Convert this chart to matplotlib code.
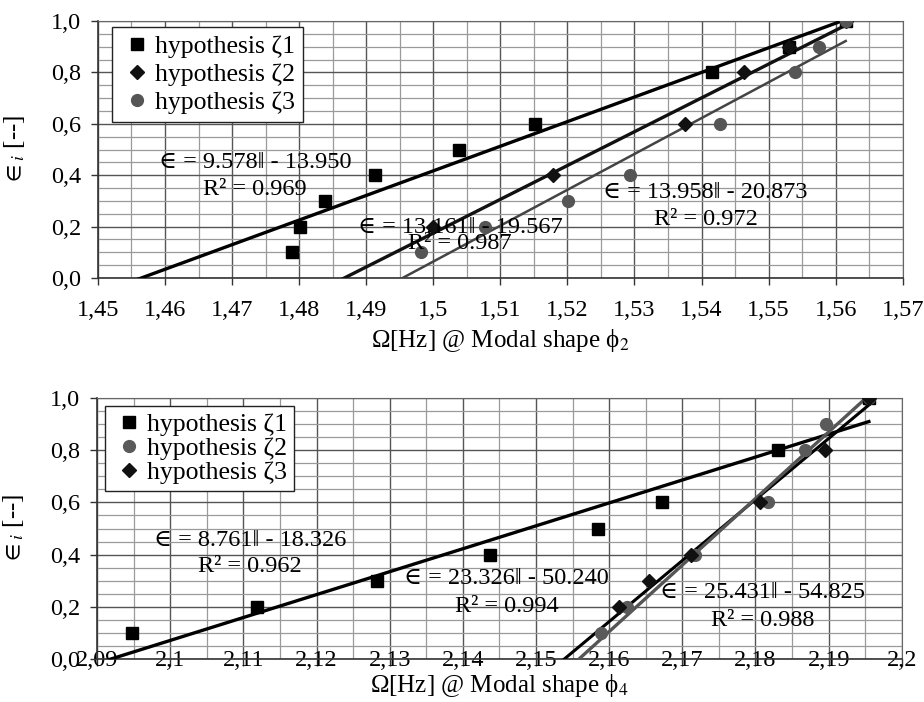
import numpy as np
import matplotlib.pyplot as plt
from matplotlib.ticker import MultipleLocator, FuncFormatter

plt.rcParams['font.family'] = ['Liberation Serif', 'DejaVu Serif']
plt.rcParams['mathtext.fontset'] = 'stix'

# top chart: modal shape phi2
top_x1 = [1.479, 1.4801, 1.4838, 1.4913, 1.5038, 1.5151, 1.5416, 1.5531, 1.5615]
top_y1 = [0.1, 0.2, 0.3, 0.4, 0.5, 0.6, 0.8, 0.9, 1.0]
top_x2 = [1.5, 1.5179, 1.5375, 1.5464, 1.5531, 1.5615]
top_y2 = [0.2, 0.4, 0.6, 0.8, 0.9, 1.0]
top_x3 = [1.4982, 1.5077, 1.5201, 1.5293, 1.5427, 1.5539, 1.5575, 1.5615]
top_y3 = [0.1, 0.2, 0.3, 0.4, 0.6, 0.8, 0.9, 1.0]
top_fits = [(9.578, -13.950, 0.969), (13.161, -19.567, 0.987), (13.958, -20.873, 0.972)]

# bottom chart: modal shape phi4
bot_x1 = [2.0948, 2.1118, 2.1282, 2.1437, 2.1585, 2.1672, 2.1831, 2.1955]
bot_y1 = [0.1, 0.2, 0.3, 0.4, 0.5, 0.6, 0.8, 1.0]
bot_x2 = [2.1589, 2.1624, 2.1717, 2.1817, 2.1867, 2.1897, 2.1955]
bot_y2 = [0.1, 0.2, 0.4, 0.6, 0.8, 0.9, 1.0]
bot_x3 = [2.1614, 2.1655, 2.1712, 2.1806, 2.1895, 2.1955]
bot_y3 = [0.2, 0.3, 0.4, 0.6, 0.8, 1.0]
bot_fits = [(8.761, -18.326, 0.962), (23.326, -50.240, 0.994), (25.431, -54.825, 0.988)]

FS = 17.5


def comma(v, pos, nd=2):
    s = f"{v:.{nd}f}".rstrip('0').rstrip('.')
    return s.replace('.', ',')


def style_axes(ax, x0, x1, xstep):
    ax.set_xlim(x0, x1)
    ax.set_ylim(0, 1)
    ax.xaxis.set_major_locator(MultipleLocator(xstep))
    ax.xaxis.set_minor_locator(MultipleLocator(xstep / 2))
    ax.yaxis.set_major_locator(MultipleLocator(0.2))
    ax.yaxis.set_minor_locator(MultipleLocator(0.05))
    ax.xaxis.set_major_formatter(FuncFormatter(comma))
    ax.yaxis.set_major_formatter(FuncFormatter(lambda v, p: f"{v:.1f}".replace('.', ',')))
    ax.grid(which='major', color='#555555', lw=1.0)
    ax.grid(which='minor', color='#9a9a9a', lw=0.9)
    ax.set_axisbelow(True)
    ax.tick_params(which='major', direction='out', length=5, width=1, labelsize=17.5, color='#333333')
    ax.tick_params(which='minor', length=0)
    for s in ['top', 'right']:
        ax.spines[s].set_color('#666666')
    for s in ['left', 'bottom']:
        ax.spines[s].set_color('#333333')
        ax.spines[s].set_linewidth(1.2)
    ax.set_ylabel(r'$\in_i$ [--]', fontsize=18)
    ax.yaxis.set_label_coords(-0.088, 0.5)


fig = plt.figure(figsize=(9.24, 7.02), dpi=100)

# ---- top ----
ax = fig.add_axes([0.106, 0.604, 0.871, 0.366])
style_axes(ax, 1.45, 1.57, 0.01)
ax.tick_params(axis='x', pad=11)
ax.tick_params(axis='y', pad=7)

xs_all = [top_x1, top_x2, top_x3]
line_cols = ['#000000', '#111111', '#444444']
line_w = [2.4, 2.4, 1.8]
for (m, b, r2), xs, c, lw in zip(top_fits, xs_all, line_cols, line_w):
    xx = np.array([1.45, max(xs)])
    ax.plot(xx, m * xx + b, color=c, lw=lw, zorder=3)

ax.plot(top_x1, top_y1, 's', color='black', ms=9, ls='none', zorder=4, label='hypothesis ζ1')
ax.plot(top_x2, top_y2, 'D', color='#111111', ms=7.5, ls='none', zorder=4, label='hypothesis ζ2')
ax.plot(top_x3, top_y3, 'o', color='#555555', ms=8.5, ls='none', zorder=4, label='hypothesis ζ3')

txt_pos = [(1.4734, 0.451, 0.346), (1.5040, 0.198, 0.136), (1.5406, 0.331, 0.226)]
for (m, b, r2), (tx, ty, ry) in zip(top_fits, txt_pos):
    ax.text(tx, ty, f"∈ = {m:.3f}ǁ - {-b:.3f}", ha='center', va='center', fontsize=FS, zorder=5)
    ax.text(tx, ry, f"R² = {r2:.3f}", ha='center', va='center', fontsize=FS, zorder=5)

leg = ax.legend(loc='upper left', bbox_to_anchor=(0.017, 0.977), fontsize=18.5, frameon=True,
                fancybox=False, edgecolor='#222222', handletextpad=0.0, handlelength=1.4,
                borderpad=0.3, labelspacing=0.2, borderaxespad=0)
leg.get_frame().set_linewidth(1.0)
leg.get_frame().set_alpha(1)
ax.set_xlabel('Ω[Hz] @ Modal shape ϕ$_2$', fontsize=18, labelpad=4)

# ---- bottom ----
ax2 = fig.add_axes([0.105, 0.0608, 0.871, 0.3727])
style_axes(ax2, 2.09, 2.2, 0.01)
ax2.tick_params(axis='x', pad=-12)
ax2.tick_params(axis='y', pad=7)

xs_all = [bot_x1, bot_x2, bot_x3]
line_cols = ['#000000', '#000000', '#555555']
line_w = [2.4, 2.2, 2.4]
for (m, b, r2), xs, c, lw in zip(bot_fits, xs_all, line_cols, line_w):
    xx = np.array([2.09, max(xs)])
    ax2.plot(xx, m * xx + b, color=c, lw=lw, zorder=3)

ax2.plot(bot_x1, bot_y1, 's', color='black', ms=8, ls='none', zorder=4, label='hypothesis ζ1')
ax2.plot(bot_x2, bot_y2, 'o', color='#5a5a5a', ms=8.5, ls='none', zorder=4, label='hypothesis ζ2')
ax2.plot(bot_x3, bot_y3, 'D', color='#111111', ms=7, ls='none', zorder=4, label='hypothesis ζ3')

txt_pos = [(2.1109, 0.453, 0.353), (2.1460, 0.307, 0.200), (2.1810, 0.254, 0.150)]
for (m, b, r2), (tx, ty, ry) in zip(bot_fits, txt_pos):
    ax2.text(tx, ty, f"∈ = {m:.3f}ǁ - {-b:.3f}", ha='center', va='center', fontsize=FS, zorder=5)
    ax2.text(tx, ry, f"R² = {r2:.3f}", ha='center', va='center', fontsize=FS, zorder=5)

leg2 = ax2.legend(loc='upper left', bbox_to_anchor=(0.010, 0.967), fontsize=18.5, frameon=True,
                  fancybox=False, edgecolor='#222222', handletextpad=0.0, handlelength=1.4,
                  borderpad=0.25, labelspacing=0.05, borderaxespad=0)
leg2.get_frame().set_linewidth(1.0)
leg2.get_frame().set_alpha(1)
ax2.set_xlabel('Ω[Hz] @ Modal shape ϕ$_4$', fontsize=18, labelpad=1)

fig.savefig('out.png', dpi=100)
